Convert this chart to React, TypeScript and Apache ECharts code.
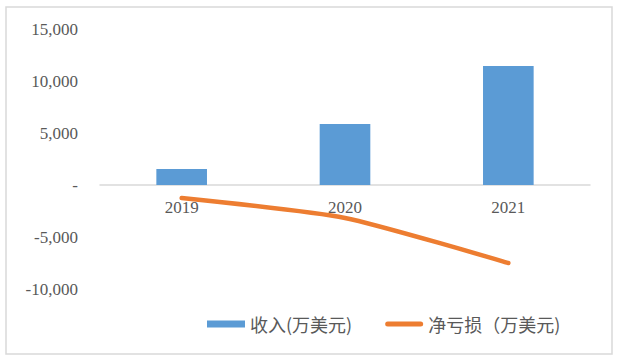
import React, { useEffect, useRef } from "react";
import * as echarts from "echarts";

const categories = ["2019", "2020", "2021"];
const revenue = [1540, 5870, 11440];
const netLoss = [-1250, -3170, -7500];
const seriesNames = ["收入(万美元)", "净亏损（万美元)"];

const lineIcon =
  "path://M19,0L19,0M19,7L19,7M2.5,1H35.5A2.5,2.5,0,0,1,35.5,6H2.5A2.5,2.5,0,0,1,2.5,1Z";

export default function App() {
  const ref = useRef<HTMLDivElement>(null);
  useEffect(() => {
    if (!ref.current) return;
    const chart = echarts.init(ref.current, null, { renderer: "svg" });
    chart.setOption({
      animation: false,
      backgroundColor: "#ffffff",
      graphic: [
        {
          type: "rect",
          shape: { x: 6, y: 7, width: 606, height: 347 },
          style: { fill: "none", stroke: "#D9D9D9", lineWidth: 1.5 },
          silent: true,
        },
      ],
      grid: { left: 100, right: 28, top: 29, bottom: 74, containLabel: false },
      legend: {
        bottom: 25,
        left: 202,
        itemWidth: 38,
        itemHeight: 7,
        itemGap: 33,
        textStyle: {
          fontFamily: "Noto Sans CJK SC",
          fontSize: 18,
          color: "#595959",
        },
        data: [
          { name: seriesNames[0], icon: "rect" },
          { name: seriesNames[1], icon: lineIcon, itemStyle: { color: "#ED7D31" } },
        ],
      },
      xAxis: {
        type: "category",
        data: categories,
        offset: -104,
        axisLine: { onZero: false, lineStyle: { color: "#D9D9D9", width: 1.5 } },
        axisTick: { show: false },
        axisLabel: {
          margin: 14,
          fontFamily: "Liberation Serif",
          fontSize: 17,
          color: "#595959",
        },
      },
      yAxis: {
        type: "value",
        min: -10000,
        max: 15000,
        interval: 5000,
        splitLine: { show: false },
        axisLine: { show: false },
        axisTick: { show: false },
        axisLabel: {
          margin: 22,
          fontFamily: "Liberation Serif",
          fontSize: 17,
          color: "#595959",
          formatter: (v: number) =>
            v === 0 ? "-" : v.toLocaleString("en-US"),
        },
      },
      series: [
        {
          name: seriesNames[0],
          type: "bar",
          data: revenue,
          barWidth: "31%",
          itemStyle: { color: "#5B9BD5" },
        },
        {
          name: seriesNames[1],
          type: "line",
          data: netLoss,
          smooth: 0.2,
          showSymbol: false,
          symbol: "none",
          z: 3,
          lineStyle: { color: "#ED7D31", width: 4.5, cap: "round" },
          itemStyle: { color: "#ED7D31" },
        },
      ],
    });
    return () => chart.dispose();
  }, []);
  return (
    <div
      ref={ref}
      style={{ position: "absolute", left: 0, top: 0, width: 618, height: 363 }}
    />
  );
}
